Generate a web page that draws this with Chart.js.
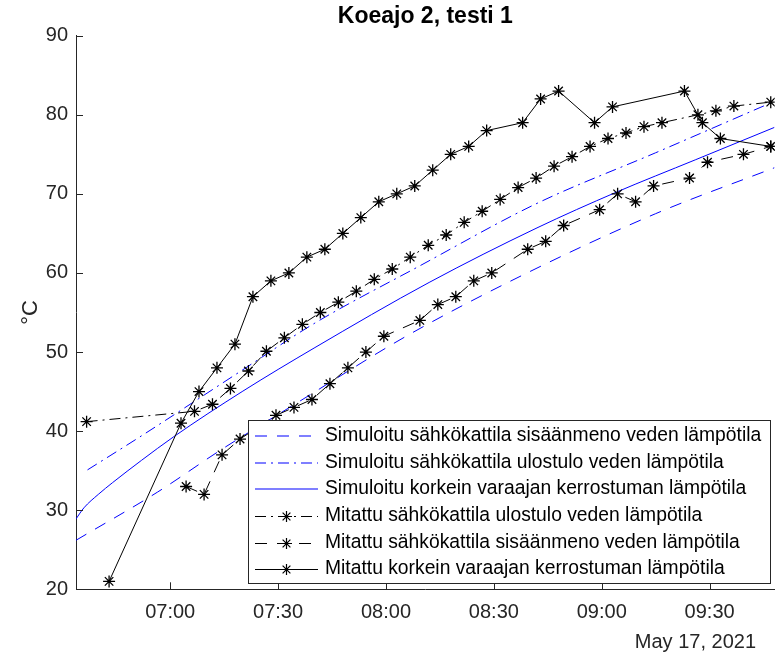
<!DOCTYPE html>
<html>
<head>
<meta charset="utf-8">
<title>Koeajo 2, testi 1</title>
<script src="https://cdn.jsdelivr.net/npm/chart.js@4.4.1/dist/chart.umd.min.js"></script>
<style>
  html, body { margin: 0; padding: 0; background: #fff; }
</style>
</head>
<body>
<canvas id="koeajo" width="782" height="659"></canvas>
<script>
// times are "HH:MM" or "HH:MM:SS" on May 17, 2021, values in °C
const xStart = "06:33:48";
const xEnd = "09:48:06";
const xTickLabels = ["07:00", "07:30", "08:00", "08:30", "09:00", "09:30"];
const dateLabel = "May 17, 2021";

// simulated (blue)
const simInTimes = ["06:33:48", "06:56:30", "07:14", "07:35", "08:06", "08:37", "09:15", "09:48"];
const simInValues = [26.2, 32.3, 37.6, 43.5, 52.1, 59.5, 67.5, 73.3];

const simOutTimes = ["06:37", "06:52", "07:20", "07:40", "08:09", "08:42", "09:15", "09:48"];
const simOutValues = [35.1, 39.4, 47.7, 53.6, 60.8, 68.8, 75.2, 81.7];

const simTopTimes = ["06:33:48", "06:36", "06:40", "06:44", "06:52", "07:01", "07:20", "07:40", "08:12", "08:42", "09:04", "09:26", "09:48"];
const simTopValues = [28.9, 30.3, 32.0, 33.5, 36.3, 39.3, 45.0, 50.5, 58.8, 65.7, 70.2, 74.3, 78.4];

// measured (black, star markers)
const measOutTimes = ["06:36:45", "07:06:45", "07:11:45", "07:16:45", "07:21:45", "07:26:45", "07:31:45", "07:36:45",
  "07:41:45", "07:46:45", "07:51:45", "07:56:45", "08:01:45", "08:06:45", "08:11:45", "08:16:45", "08:21:45",
  "08:26:45", "08:31:45", "08:36:45", "08:41:45", "08:46:45", "08:51:45", "08:56:45", "09:01:45", "09:06:45",
  "09:11:45", "09:16:45", "09:26:45", "09:31:45", "09:36:45", "09:47"];
const measOutValues = [41.2, 42.5, 43.4, 45.4, 47.6, 50.1, 51.8, 53.5, 55.0, 56.3, 57.7, 59.2, 60.5, 62.0, 63.5, 64.8,
  66.4, 67.8, 69.3, 70.8, 72.0, 73.5, 74.7, 76.0, 77.0, 77.7, 78.5, 79.0, 80.0, 80.5, 81.1, 81.6];

const measInTimes = ["07:04:25", "07:09:25", "07:14:25", "07:19:25", "07:29:25", "07:34:25", "07:39:25", "07:44:25",
  "07:49:25", "07:54:25", "07:59:25", "08:09:25", "08:14:25", "08:19:25", "08:24:25", "08:29:25", "08:39:25",
  "08:44:25", "08:49:25", "08:59:25", "09:04:25", "09:09:25", "09:14:25", "09:24:25", "09:29:25", "09:39:25", "09:47"];
const measInValues = [33, 32, 37, 39, 42, 43, 44, 46, 48, 50, 52, 54, 56, 57, 59, 60, 63, 64, 66, 68, 70, 69, 71, 72, 74, 75, 76];

const measTopTimes = ["06:43", "07:03", "07:08", "07:13", "07:18", "07:23", "07:28", "07:33", "07:38", "07:43",
  "07:48", "07:53", "07:58", "08:03", "08:08", "08:13", "08:18", "08:23", "08:28", "08:38", "08:43", "08:48",
  "08:58", "09:03", "09:23", "09:28", "09:33", "09:47"];
const measTopValues = [21, 41, 45, 48, 51, 57, 59, 60, 62, 63, 65, 67, 69, 70, 71, 73, 75, 76, 78, 79, 82, 83,
  79, 81, 83, 79, 77, 76];

const AXIS = "#262626";
const BLUE = "#0000ff";
const DASH = [12, 10];
const DASHDOT = [11, 5, 2, 5];
const TICK_LEN = 7;

function toMin(t) {
  const p = t.split(":").map(Number);
  return p[0] * 60 + p[1] + (p[2] || 0) / 60;
}
function hhmm(m) {
  const h = Math.floor(m / 60);
  const mm = Math.round(m - h * 60);
  return String(h).padStart(2, "0") + ":" + String(mm).padStart(2, "0");
}
const pts = (times, values) => times.map((t, i) => ({ x: toMin(t), y: values[i] }));

Chart.defaults.font.family = "'Liberation Sans', Arial, sans-serif";

function simLine(label, data, dash) {
  return {
    label, data,
    borderColor: BLUE, borderWidth: 1, borderDash: dash,
    pointRadius: 0, cubicInterpolationMode: "monotone",
    order: 2
  };
}
function measLine(label, data, dash) {
  return {
    label, data,
    borderColor: "#000", borderWidth: 1, borderDash: dash,
    pointStyle: "star", pointRadius: 6, pointBorderColor: "#000", pointBorderWidth: 1.3,
    pointBackgroundColor: "#000",
    order: 1
  };
}

// inward ticks, legend box and the date under the x axis, drawn like the matlab figure
const matlabDecor = {
  id: "matlabDecor",
  afterDatasetsDraw(chart) {
    const { ctx, chartArea: a, scales: { x, y } } = chart;
    ctx.save();
    ctx.strokeStyle = AXIS;
    ctx.lineWidth = 1;
    ctx.beginPath();
    x.ticks.forEach(t => {
      const px = Math.round(x.getPixelForValue(t.value)) + 0.5;
      ctx.moveTo(px, a.bottom);
      ctx.lineTo(px, a.bottom - TICK_LEN);
    });
    y.ticks.forEach(t => {
      const py = Math.round(y.getPixelForValue(t.value)) + 0.5;
      ctx.moveTo(a.left, py);
      ctx.lineTo(a.left + TICK_LEN, py);
    });
    ctx.stroke();

    // legend, south east
    const box = { left: 248.5, top: 420.5, right: 770.5, bottom: 583.5 };
    ctx.fillStyle = "#fff";
    ctx.fillRect(box.left, box.top, box.right - box.left, box.bottom - box.top);
    ctx.strokeStyle = AXIS;
    ctx.strokeRect(box.left, box.top, box.right - box.left, box.bottom - box.top);

    const rowH = 26.67;
    ctx.font = "19.3px 'Liberation Sans', Arial, sans-serif";
    ctx.textBaseline = "middle";
    ctx.textAlign = "left";
    chart.data.datasets.forEach((ds, i) => {
      const ry = Math.round(box.top + 15.5 + i * rowH);
      const isSim = !(ds.pointRadius > 0);
      const ly = isSim ? ry : ry + 0.5;
      ctx.strokeStyle = isSim ? BLUE : "#000";
      ctx.lineWidth = isSim ? 1.2 : 1;
      ctx.setLineDash(ds.borderDash || []);
      ctx.beginPath();
      ctx.moveTo(255, ly);
      ctx.lineTo(318, ly);
      ctx.stroke();
      ctx.setLineDash([]);
      if (!isSim) {
        ctx.strokeStyle = "#000";
        ctx.lineWidth = 1.2;
        Chart.helpers.drawPoint(ctx, { pointStyle: "star", radius: 5.5, rotation: 0, borderWidth: 1.2 }, 286.5, ly);
      }
      ctx.fillStyle = "#000";
      ctx.fillText(ds.label, 325, ry);
    });
    ctx.restore();
  },
  afterDraw(chart) {
    const { ctx } = chart;
    ctx.save();
    ctx.font = "20px 'Liberation Sans', Arial, sans-serif";
    ctx.fillStyle = AXIS;
    ctx.textAlign = "right";
    ctx.textBaseline = "middle";
    ctx.fillText(dateLabel, 756, 642);
    ctx.restore();
  }
};

new Chart(document.getElementById("koeajo"), {
  type: "line",
  data: {
    datasets: [
      simLine("Simuloitu sähkökattila sisäänmeno veden lämpötila", pts(simInTimes, simInValues), DASH),
      simLine("Simuloitu sähkökattila ulostulo veden lämpötila", pts(simOutTimes, simOutValues), DASHDOT),
      simLine("Simuloitu korkein varaajan kerrostuman lämpötila", pts(simTopTimes, simTopValues), []),
      measLine("Mitattu sähkökattila ulostulo veden lämpötila", pts(measOutTimes, measOutValues), DASHDOT),
      measLine("Mitattu sähkökattila sisäänmeno veden lämpötila", pts(measInTimes, measInValues), DASH),
      measLine("Mitattu korkein varaajan kerrostuman lämpötila", pts(measTopTimes, measTopValues), [])
    ]
  },
  options: {
    responsive: false,
    animation: false,
    layout: { padding: { top: 0, left: 0, right: 2, bottom: 0 } },
    plugins: {
      legend: { display: false },
      tooltip: { enabled: false },
      title: {
        display: true,
        text: "Koeajo 2, testi 1",
        fullSize: false,
        color: "#000",
        font: { size: 23, weight: "bold" },
        padding: { top: 3, bottom: 5.1 }
      }
    },
    scales: {
      x: {
        type: "linear",
        min: toMin(xStart),
        max: toMin(xEnd),
        grid: { display: false, drawTicks: false },
        border: { display: true, color: AXIS, width: 1 },
        afterBuildTicks: s => { s.ticks = xTickLabels.map(l => ({ value: toMin(l) })); },
        ticks: {
          callback: v => hhmm(v),
          color: AXIS,
          font: { size: 20 },
          padding: 10.7,
          maxRotation: 0,
          autoSkip: false
        },
        afterFit: s => { s.height = 69.7; }
      },
      y: {
        min: 20,
        max: 90,
        grid: { display: false, drawTicks: false },
        border: { display: true, color: AXIS, width: 1 },
        ticks: { stepSize: 10, color: AXIS, font: { size: 20 }, padding: 8 },
        title: {
          display: true,
          text: "°C",
          color: AXIS,
          font: { size: 22 },
          padding: { top: 18, bottom: 0 }
        },
        afterFit: s => { s.width = 76; }
      }
    }
  },
  plugins: [matlabDecor]
});
</script>
</body>
</html>
